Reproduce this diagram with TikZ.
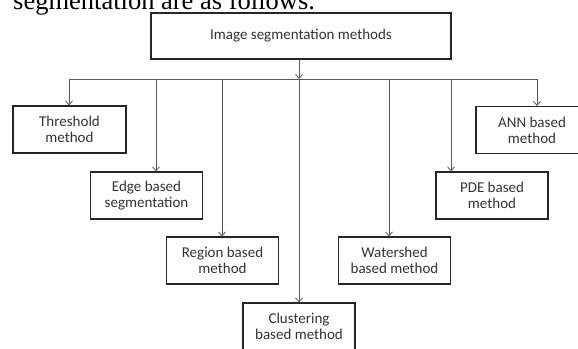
\documentclass[tikz,border=0pt]{standalone}
\usepackage{fontspec}
\setmainfont{Liberation Serif}
\newfontfamily\boxfont{Carlito}
\usetikzlibrary{arrows.meta}
\begin{document}
\begin{tikzpicture}[x=1bp,y=-1bp,
  method/.style={draw=black!85, line width=1.1bp, minimum width=112bp,
    minimum height=47bp, align=center, inner sep=0pt, text=black!80,
    font=\boxfont\fontsize{15bp}{16bp}\selectfont},
  link/.style={draw=black!65, line width=0.8bp},
  arr/.style={link, -{Straight Barb[length=4bp,width=7bp,line width=0.8bp]}}]
\useasboundingbox (0,0) rectangle (578,348);
\clip (0,0) rectangle (578,348);

% running text above the chart
\node[anchor=base west, inner sep=0pt, font=\fontsize{26.5bp}{30bp}\selectfont]
  (caption) at (13,9.5) {segmentation are as follows.};

% root
\node[method, minimum width=300bp, minimum height=46bp] (root) at (301,36)
  {Image segmentation methods};

% branches
\node[method, minimum width=113bp] (thr) at (69.5,129.5) {Threshold\\method};
\node[method] (edge) at (146.5,195.5) {Edge based\\segmentation};
\node[method] (region) at (222.5,260.5) {Region based\\method};
\node[method] (clust) at (299,326.5) {Clustering\\based method};
\node[method] (water) at (394.5,260.5) {Watershed\\based method};
\node[method] (pde) at (492,195.5) {PDE based\\method};
\node[method] (ann) at (532,130) {ANN based\\method};

% bus taps
\coordinate (t1) at (69,79);
\coordinate (t2) at (156,79);
\coordinate (t3) at (222,79);
\coordinate (t4) at (299,79);
\coordinate (t5) at (389,79);
\coordinate (t6) at (451,79);
\coordinate (t7) at (537,79);

\draw[link] (t1) -- (t7);
\draw[arr] (root.south -| t4) -- (t4);
\draw[arr] (t1) -- (t1 |- thr.north);
\draw[arr] (t2) -- (t2 |- edge.north);
\draw[arr] (t3) -- (t3 |- region.north);
\draw[arr] (t4) -- (t4 |- clust.north);
\draw[arr] (t5) -- (t5 |- water.north);
\draw[arr] (t6) -- (t6 |- pde.north);
\draw[arr] (t7) -- (t7 |- ann.north);
\end{tikzpicture}
\end{document}
